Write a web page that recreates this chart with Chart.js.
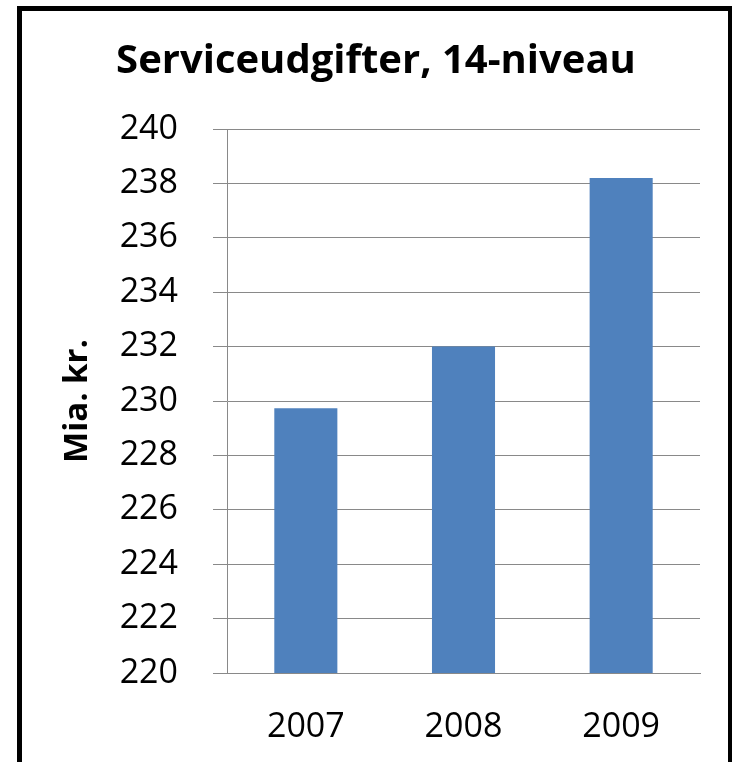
<!DOCTYPE html>
<html>
<head>
<meta charset="utf-8">
<script src="https://cdn.jsdelivr.net/npm/chart.js@4"></script>
<style>
  html, body { margin: 0; padding: 0; background: #fff; }
  #wrap { position: relative; width: 732px; height: 762px; overflow: hidden; }
  #frame {
    position: absolute; left: 17px; top: 6px; width: 706px; height: 800px;
    border: 5px solid #000; pointer-events: none;
  }
  canvas { position: absolute; left: 0; top: 0; }
</style>
</head>
<body>
<div id="wrap">
  <canvas id="chartUdgifter" width="732" height="762"></canvas>
  <div id="frame"></div>
</div>
<script>
const years = ['2007', '2008', '2009'];
const udgifter = [229.73, 232.0, 238.2];
const yMin = 220, yMax = 240, yStep = 2;

const fontFam = '"Open Sans", "Noto Sans", sans-serif';
const gridGrey = '#898989';

new Chart(document.getElementById('chartUdgifter'), {
  type: 'bar',
  data: {
    labels: years,
    datasets: [{
      label: 'Serviceudgifter',
      data: udgifter,
      backgroundColor: '#4F81BD',
      borderWidth: 0,
      barPercentage: 0.4,
      categoryPercentage: 1
    }]
  },
  options: {
    responsive: false,
    animation: false,
    layout: { padding: { left: 52, right: 32, top: 0, bottom: 0 } },
    plugins: {
      legend: { display: false },
      tooltip: { enabled: false },
      title: {
        display: true,
        text: 'Serviceudgifter, 14-niveau',
        color: '#000',
        font: { family: fontFam, size: 40, weight: 'bold' },
        padding: { top: 38, bottom: 43 }
      }
    },
    scales: {
      x: {
        grid: { display: false, drawTicks: false },
        border: { display: true, color: gridGrey, width: 1 },
        ticks: {
          color: '#000',
          padding: 34,
          font: { family: fontFam, size: 34 }
        },
        afterFit: function (scale) {
          scale.height = 762 - 673;
        }
      },
      y: {
        min: yMin,
        max: yMax,
        grid: { color: gridGrey, lineWidth: 1, tickLength: 14, drawTicks: true },
        border: { display: true, color: gridGrey, width: 1 },
        ticks: {
          stepSize: yStep,
          color: '#000',
          padding: 35,
          font: { family: fontFam, size: 34 }
        },
        title: {
          display: true,
          text: 'Mia. kr.',
          color: '#000',
          font: { family: fontFam, size: 33, weight: 'bold' },
          padding: { top: 6, bottom: 0 }
        },
        afterFit: function (scale) {
          scale.width = 227 - 52;
        }
      }
    }
  }
});
</script>
</body>
</html>
